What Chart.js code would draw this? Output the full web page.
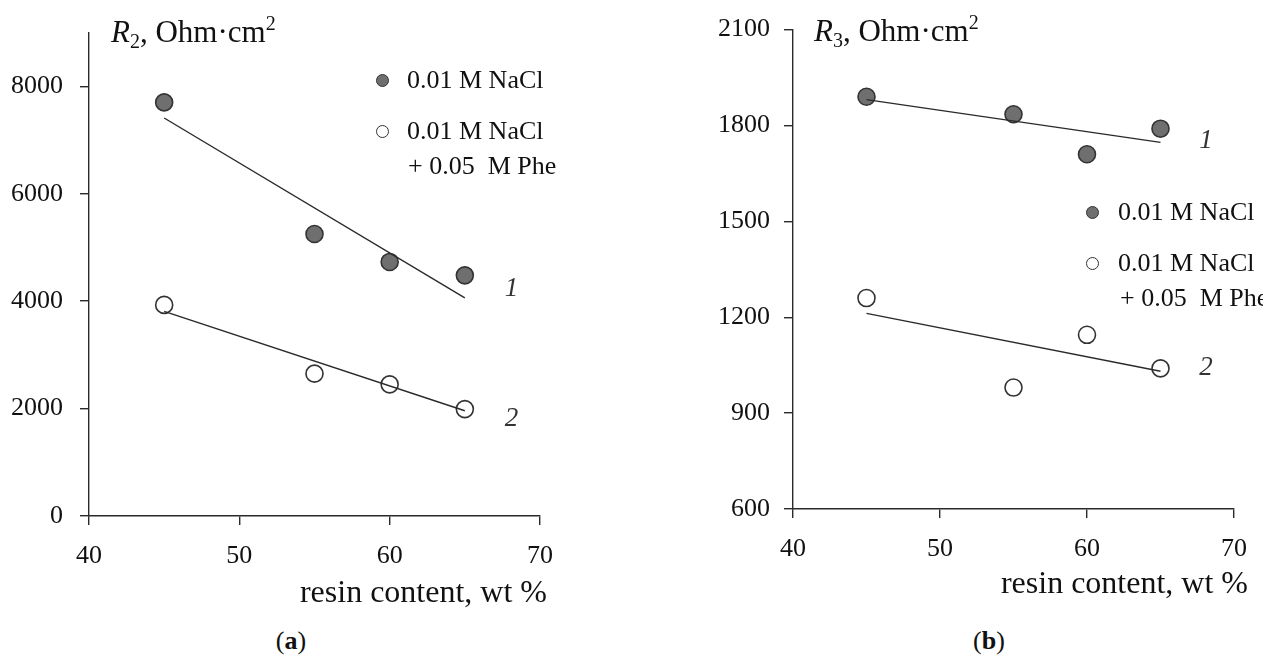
<!DOCTYPE html>
<html>
<head>
<meta charset="utf-8">
<script src="https://cdn.jsdelivr.net/npm/chart.js@4.4.1/dist/chart.umd.min.js"></script>
<style>
  html, body { margin: 0; padding: 0; background: #fff; }
  body { width: 1263px; height: 655px; position: relative; overflow: hidden;
         font-family: 'Liberation Serif', 'Times New Roman', serif; color: #111; }
  .panel { position: absolute; top: 0; }
  .txt { position: absolute; white-space: nowrap; }
  .ytitle { font-size: 31px; line-height: 31px; }
  .ytitle sub { font-size: 20px; vertical-align: -6px; line-height: 0; }
  .ytitle sup { font-size: 20px; vertical-align: 12px; line-height: 0; }
  .xtitle { font-size: 32px; line-height: 32px; text-align: right; }
  .leg { font-size: 26px; line-height: 26px; }
  .cap { font-size: 26px; line-height: 26px; transform: translateX(-50%); }
  .dot { position: absolute; width: 13px; height: 13px; border-radius: 50%;
         border: 1.5px solid #333; box-sizing: border-box; margin: -6.5px 0 0 -6.5px; }
  .dot.fill { background: #6f6f6f; }
  .dot.open { background: #fff; }
</style>
</head>
<body>

<div class="panel" style="left:0;width:600px;height:600px"><canvas id="chartA" width="600" height="600"></canvas></div>
<div class="panel" style="left:660px;width:603px;height:600px"><canvas id="chartB" width="603" height="600"></canvas></div>

<!-- panel (a) texts -->
<div class="txt ytitle" style="left:111px;top:16px"><i>R</i><sub>2</sub>, Ohm·cm<sup>2</sup></div>
<div class="dot fill" style="left:382px;top:80px"></div>
<div class="txt leg" style="left:407px;top:67px">0.01 M NaCl</div>
<div class="dot open" style="left:382px;top:131px"></div>
<div class="txt leg" style="left:407px;top:118px">0.01 M NaCl</div>
<div class="txt leg" style="left:408px;top:153px">+ 0.05&nbsp; M Phe</div>
<div class="txt xtitle" style="right:716px;top:575px">resin content, wt %</div>
<div class="txt cap" style="left:291px;top:628px">(<b>a</b>)</div>

<!-- panel (b) texts -->
<div class="txt ytitle" style="left:814px;top:15px"><i>R</i><sub>3</sub>, Ohm·cm<sup>2</sup></div>
<div class="dot fill" style="left:1092px;top:212px"></div>
<div class="txt leg" style="left:1118px;top:199px">0.01 M NaCl</div>
<div class="dot open" style="left:1092px;top:263px"></div>
<div class="txt leg" style="left:1118px;top:250px">0.01 M NaCl</div>
<div class="txt leg" style="left:1120px;top:285px">+ 0.05&nbsp; M Phe</div>
<div class="txt xtitle" style="right:15px;top:566px">resin content, wt %</div>
<div class="txt cap" style="left:989px;top:628px">(<b>b</b>)</div>

<script>
// ---- data ----
const resin      = [45, 55, 60, 65];
const fitX       = [45, 65];
const xTicks     = [40, 50, 60, 70];

// (a) R2
const r2NaCl     = [7700, 5250, 4730, 4480];
const r2Phe      = [3930, 2650, 2450, 1990];
const r2NaClFit  = [7410, 4060];
const r2PheFit   = [3810, 1960];
const yTicksA    = [0, 2000, 4000, 6000, 8000];

// (b) R3
const r3NaCl     = [1890, 1835, 1710, 1790];
const r3Phe      = [1260, 980, 1145, 1040];
const r3NaClFit  = [1881, 1747];
const r3PheFit   = [1212, 1031];
const yTicksB    = [600, 900, 1200, 1500, 1800, 2100];

// curve numbers
const curveText  = ['1', '2'];
const curveX     = [68.1, 68.1];
const curveYA    = [4220, 1810];
const curveYB    = [1753, 1041];

const FONT = "'Liberation Serif', 'Times New Roman', serif";
const INK  = '#2a2a2a';

Chart.defaults.font.family = FONT;
Chart.defaults.color = '#111';

const pts = (xs, ys) => xs.map((x, i) => ({ x, y: ys[i] }));

/* curve number labels placed in data coordinates */
const curveLabels = {
  id: 'curveLabels',
  afterDatasetsDraw(chart, args, opts) {
    const { ctx, scales: { x, y } } = chart;
    ctx.save();
    ctx.font = `italic 27px ${FONT}`;
    ctx.fillStyle = '#333';
    ctx.textAlign = 'center';
    ctx.textBaseline = 'middle';
    opts.text.forEach((t, i) => {
      ctx.fillText(t, x.getPixelForValue(opts.x[i]), y.getPixelForValue(opts.y[i]));
    });
    ctx.restore();
  }
};

function buildPanel(id, cfg) {
  const axisGrid = { drawOnChartArea: false, drawTicks: true, tickLength: 9, color: INK, lineWidth: 1.4 };
  const axisBorder = { display: true, color: INK, width: 1.4 };

  return new Chart(document.getElementById(id), {
    type: 'scatter',
    data: {
      datasets: [
        { data: pts(fitX, cfg.fit1), showLine: true, borderColor: INK, borderWidth: 1.4, pointRadius: 0, order: 0 },
        { data: pts(fitX, cfg.fit2), showLine: true, borderColor: INK, borderWidth: 1.4, pointRadius: 0, order: 0 },
        { data: pts(resin, cfg.nacl), pointRadius: 8.5, pointBackgroundColor: '#6f6f6f',
          pointBorderColor: '#333', pointBorderWidth: 1.6, order: 1 },
        { data: pts(resin, cfg.phe), pointRadius: 8.5, pointBackgroundColor: '#fff',
          pointBorderColor: '#333', pointBorderWidth: 1.6, order: 1 },
      ],
    },
    options: {
      responsive: false,
      animation: false,
      devicePixelRatio: 1,
      clip: false,
      layout: { padding: { left: 0, right: cfg.padRight, top: 29, bottom: 0 } },
      plugins: {
        legend: { display: false },
        tooltip: { enabled: false },
        curveLabels: { text: curveText, x: curveX, y: cfg.curveY },
      },
      scales: {
        x: {
          type: 'linear', min: 40, max: 70,
          afterBuildTicks: s => { s.ticks = xTicks.map(v => ({ value: v })); },
          afterFit: s => { s.height = cfg.xHeight; },
          grid: axisGrid, border: axisBorder,
          ticks: { font: { size: 26 }, color: '#111', padding: 16, maxRotation: 0, callback: v => String(v) },
        },
        y: {
          min: cfg.yMin, max: cfg.yMax,
          afterBuildTicks: s => { s.ticks = cfg.yTicks.map(v => ({ value: v })); },
          afterFit: s => { s.width = cfg.yWidth; },
          grid: axisGrid, border: axisBorder,
          ticks: { font: { size: 26 }, color: '#111', padding: cfg.yPad, callback: v => String(v) },
        },
      },
    },
    plugins: [curveLabels],
  });
}

buildPanel('chartA', {
  nacl: r2NaCl, phe: r2Phe, fit1: r2NaClFit, fit2: r2PheFit,
  yMin: 0, yMax: 9000, yTicks: yTicksA, curveY: curveYA,
  yWidth: 89, yPad: 17, xHeight: 84, padRight: 60,
});

buildPanel('chartB', {
  nacl: r3NaCl, phe: r3Phe, fit1: r3NaClFit, fit2: r3PheFit,
  yMin: 600, yMax: 2100, yTicks: yTicksB, curveY: curveYB,
  yWidth: 133, yPad: 14, xHeight: 91, padRight: 22,
});
</script>
</body>
</html>
